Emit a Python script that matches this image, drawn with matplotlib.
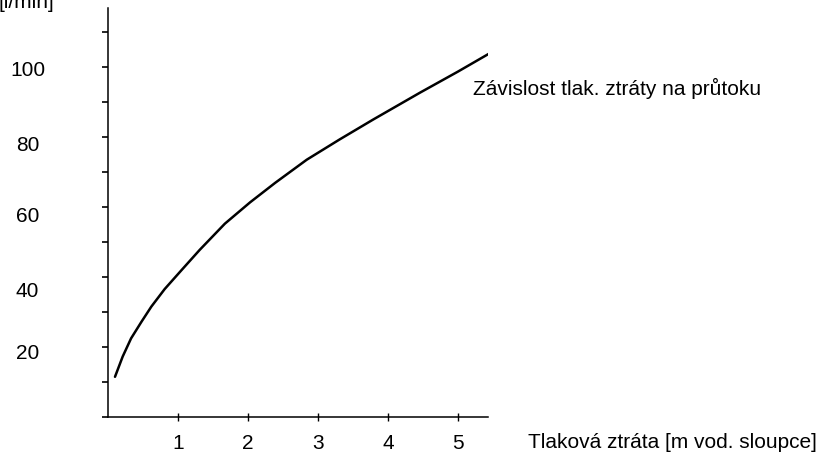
import matplotlib.pyplot as plt
import matplotlib.transforms as mtransforms

plt.rcParams['font.family'] = ['Liberation Sans', 'DejaVu Sans']

# curve
ztrata = [0.1, 0.21, 0.33, 0.48, 0.62, 0.81, 1.05, 1.31, 1.67, 2.03, 2.39,
          2.84, 3.31, 3.79, 4.46, 5.0, 5.45]
prutok = [11.5, 17.3, 22.5, 27.3, 31.6, 36.6, 42.0, 47.8, 55.3, 61.4, 67.0,
          73.6, 79.4, 85.1, 92.8, 98.8, 104.0]

x_ticks = [1, 2, 3, 4, 5]
y_ticks = [0, 10, 20, 30, 40, 50, 60, 70, 80, 90, 100, 110]
y_labels = [20, 40, 60, 80, 100]

fig = plt.figure(figsize=(8.23, 4.55), dpi=100)
ax = fig.add_axes([108 / 823, 38 / 455, 380 / 823, 409 / 455])

ax.plot(ztrata, prutok, color='black', lw=1.8, solid_capstyle='round')

ax.set_xlim(0, 5.43)
ax.set_ylim(0, 117)

for s in ['top', 'right']:
    ax.spines[s].set_visible(False)
for s in ['left', 'bottom']:
    ax.spines[s].set_linewidth(1.1)

ax.set_xticks(x_ticks)
ax.set_xticklabels([str(v) for v in x_ticks], fontsize=15)
ax.tick_params(axis='x', direction='inout', length=6, width=1, pad=9)

ax.set_yticks(y_ticks)
ax.set_yticklabels([str(v) if v in y_labels else '' for v in y_ticks], fontsize=15)
ax.tick_params(axis='y', direction='out', length=4, width=1.2, pad=54)

# labels in the original sit a little below their ticks
drop = {20: 4, 40: 12, 60: 7, 80: 6, 100: 1}
for lab, v in zip(ax.get_yticklabels(), y_ticks):
    lab.set_horizontalalignment('center')
    if v in drop:
        lab.set_transform(lab.get_transform() +
                          mtransforms.ScaledTranslation(0, -drop[v] / 100, fig.dpi_scale_trans))

fig.text(-0.002, 1 - 3 / 455, '[l/min]', fontsize=15, va='center', ha='left')
fig.text(473 / 823, 1 - 88 / 455, 'Závislost tlak. ztráty na průtoku', fontsize=15, va='center', ha='left')
fig.text(528 / 823, 1 - 442 / 455, 'Tlaková ztráta [m vod. sloupce]', fontsize=15, va='center', ha='left')

fig.savefig('out.png', dpi=100)
